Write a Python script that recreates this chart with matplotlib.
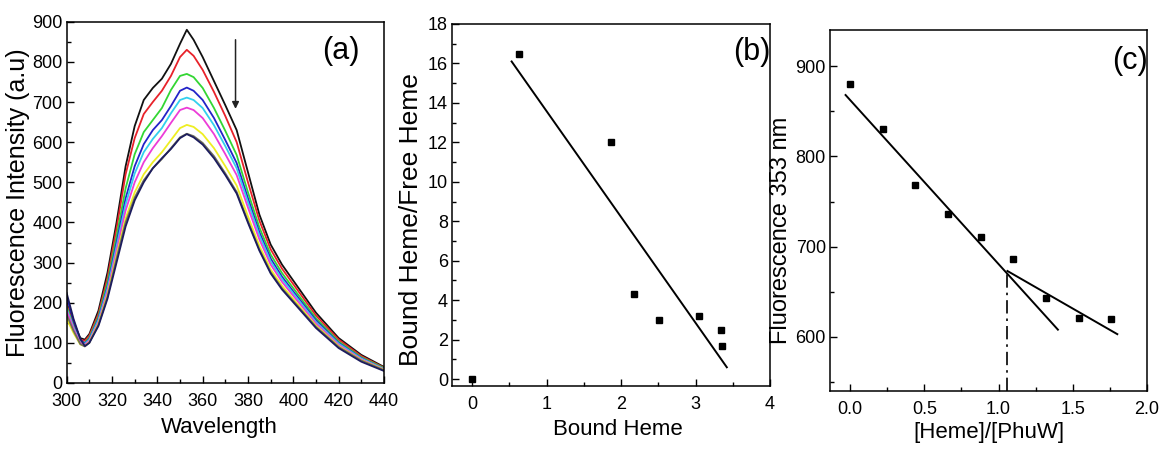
import numpy as np
import matplotlib
matplotlib.use("Agg")
import matplotlib.pyplot as plt
from matplotlib.ticker import MultipleLocator, FormatStrFormatter

plt.rcParams['font.family'] = ['Liberation Sans', 'DejaVu Sans']

# (a) emission spectra
wl = [300, 303, 306, 308, 310, 314, 318, 322, 326, 330, 334, 338, 342, 346, 350,
      353, 356, 360, 365, 370, 375, 380, 385, 390, 395, 400, 410, 420, 430, 440]
s_black = [200, 150, 112, 108, 122, 180, 275, 400, 540, 640, 705, 735, 758, 795, 845,
           880, 855, 812, 752, 692, 630, 525, 420, 345, 295, 255, 175, 112, 70, 40]
s_red = [195, 145, 108, 105, 118, 172, 262, 385, 520, 610, 670, 700, 728, 765, 812,
         830, 815, 780, 725, 665, 600, 500, 405, 333, 285, 246, 168, 108, 67, 38]
s_green = [190, 140, 104, 100, 113, 165, 250, 365, 485, 570, 625, 655, 685, 730, 765,
           770, 762, 735, 685, 628, 568, 475, 388, 320, 274, 236, 161, 103, 64, 37]
s_blue = [215, 155, 108, 98, 110, 160, 240, 350, 460, 540, 595, 630, 655, 690, 728,
          736, 728, 705, 660, 605, 548, 460, 376, 310, 265, 228, 156, 100, 62, 35]
s_cyan = [185, 138, 102, 97, 108, 157, 235, 340, 445, 522, 575, 608, 635, 672, 705,
          711, 705, 685, 642, 590, 535, 450, 368, 303, 259, 223, 152, 98, 61, 35]
s_magenta = [180, 135, 100, 95, 105, 152, 228, 330, 430, 500, 550, 585, 615, 648, 680,
             686, 680, 660, 620, 570, 518, 437, 358, 295, 252, 217, 148, 95, 59, 34]
s_yellow = [160, 125, 96, 92, 102, 148, 220, 318, 410, 475, 520, 550, 575, 605, 635,
            643, 638, 620, 585, 540, 492, 415, 342, 283, 242, 209, 143, 92, 57, 33]
s_dkyellow = [170, 130, 97, 91, 100, 145, 215, 310, 400, 462, 505, 535, 558, 585, 612,
              621, 615, 598, 565, 522, 476, 403, 333, 276, 236, 204, 140, 90, 56, 32]
s_navy = [224, 160, 110, 92, 100, 142, 210, 300, 390, 455, 500, 535, 560, 583, 610,
          620, 612, 594, 560, 518, 472, 399, 330, 273, 233, 201, 137, 87, 53, 30]
spectra = [s_black, s_red, s_green, s_blue, s_cyan, s_magenta, s_yellow, s_dkyellow, s_navy]
colors = ['#111111', '#e8222a', '#33d633', '#2323c8', '#33d0ee', '#ec3cd8',
          '#eeee22', '#6e6e5a', '#1c1c5e']

# (b) Scatchard
bound = [0, 0.63, 1.87, 2.18, 2.51, 3.05, 3.34, 3.35]
ratio = [0, 16.5, 12.0, 4.3, 3.0, 3.2, 2.5, 1.7]
fit_b_x = [0.53, 3.42]
fit_b_y = [16.1, 0.6]

# (c) titration
heme_ratio = [0.0, 0.22, 0.44, 0.66, 0.88, 1.10, 1.32, 1.54, 1.76]
fl353 = [880, 830, 768, 736, 711, 686, 643, 621, 620]
fit_c1_x = [-0.03, 1.40]
fit_c1_y = [868, 608]
fit_c2_x = [1.06, 1.80]
fit_c2_y = [673, 603]
break_x = 1.06
break_y = 673

fig = plt.figure(figsize=(11.6, 4.51), dpi=100)
axa = fig.add_axes([0.0575, 0.1508, 0.2735, 0.801])
axb = fig.add_axes([0.3897, 0.1441, 0.2741, 0.8027])
axc = fig.add_axes([0.7155, 0.1330, 0.2733, 0.8004])

for ax in (axa, axb, axc):
    for sp in ax.spines.values():
        sp.set_linewidth(1.1)
    ax.tick_params(which='both', direction='in', top=False, right=False,
                   labelsize=13)
    ax.tick_params(axis='x', pad=7)
    ax.tick_params(axis='y', pad=3)
    ax.tick_params(which='major', length=5, width=1)
    ax.tick_params(which='minor', length=3, width=1)


def labels(ax, xl, yl, xs, ys, xpos, ypos):
    ax.set_xlabel(xl, fontsize=xs)
    ax.set_ylabel(yl, fontsize=ys)
    ax.xaxis.set_label_coords(*xpos)
    ax.yaxis.set_label_coords(*ypos)
    ax.xaxis.label.set_va('center')
    ax.yaxis.label.set_va('center')


# panel a
for s, c in zip(spectra, colors):
    axa.plot(wl, s, color=c, lw=1.3)
axa.annotate('', xy=(374.5, 676), xytext=(374.5, 862),
             arrowprops=dict(arrowstyle='-|>', color='#222222', lw=1.1,
                             mutation_scale=10))
axa.set_xlim(300, 440)
axa.set_ylim(0, 900)
axa.xaxis.set_major_locator(MultipleLocator(20))
axa.xaxis.set_minor_locator(MultipleLocator(10))
axa.yaxis.set_major_locator(MultipleLocator(100))
axa.yaxis.set_minor_locator(MultipleLocator(50))
labels(axa, 'Wavelength', 'Fluorescence Intensity (a.u)', 16, 18,
       (0.48, -0.122), (-0.155, 0.50))
axa.text(421, 828, '(a)', fontsize=22, ha='center', va='center')

# panel b
axb.plot(bound, ratio, 's', color='black', ms=5)
axb.plot(fit_b_x, fit_b_y, color='black', lw=1.4)
axb.set_xlim(-0.27, 4.0)
axb.set_ylim(-0.35, 18)
axb.xaxis.set_major_locator(MultipleLocator(1))
axb.xaxis.set_minor_locator(MultipleLocator(0.5))
axb.yaxis.set_major_locator(MultipleLocator(2))
axb.yaxis.set_minor_locator(MultipleLocator(1))
labels(axb, 'Bound Heme', 'Bound Heme/Free Heme', 16, 19,
       (0.52, -0.1215), (-0.13, 0.46))
axb.text(3.76, 16.6, '(b)', fontsize=22, ha='center', va='center')

# panel c
axc.plot(heme_ratio, fl353, 's', color='black', ms=5)
axc.plot(fit_c1_x, fit_c1_y, color='black', lw=1.4)
axc.plot(fit_c2_x, fit_c2_y, color='black', lw=1.4)
axc.plot([break_x, break_x], [540, break_y], color='black', lw=1.2,
         ls=(0, (8, 3, 1.5, 3)))
axc.set_xlim(-0.135, 2.0)
axc.set_ylim(540, 940)
axc.xaxis.set_major_locator(MultipleLocator(0.5))
axc.xaxis.set_minor_locator(MultipleLocator(0.25))
axc.yaxis.set_major_locator(MultipleLocator(100))
axc.yaxis.set_minor_locator(MultipleLocator(50))
axc.xaxis.set_major_formatter(FormatStrFormatter('%.1f'))
labels(axc, '[Heme]/[PhuW]', 'Fluorescence 353 nm', 16, 17,
       (0.50, -0.116), (-0.155, 0.446))
axc.text(1.885, 906, '(c)', fontsize=22, ha='center', va='center')

fig.savefig('out.png', dpi=100)
